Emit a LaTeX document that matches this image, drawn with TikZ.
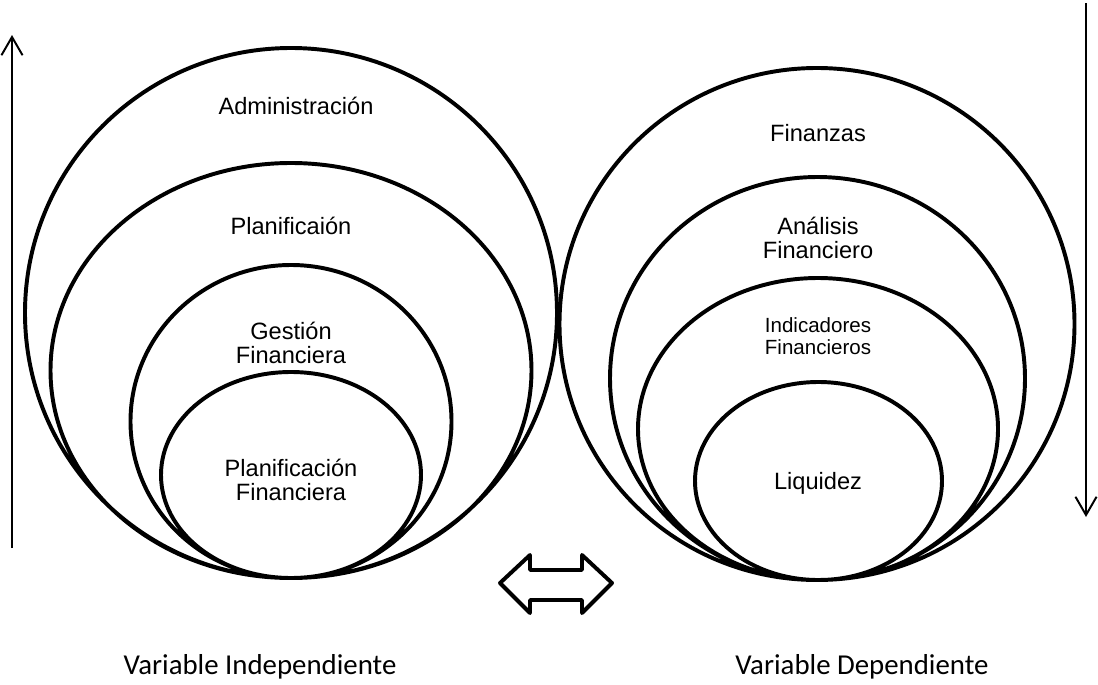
\documentclass[tikz,border=0pt]{standalone}
\usepackage{fontspec}
\setmainfont{Liberation Sans}
\newfontfamily\calibri{Carlito}
\usetikzlibrary{arrows.meta}
\begin{document}
\begin{tikzpicture}[x=0.025cm,y=-0.025cm,line width=2.8pt,
lbl/.style={align=center,inner sep=0pt,font=\fontsize{16.8}{17}\selectfont},
var/.style={inner sep=0pt,font=\calibri\fontsize{20.5}{24}\selectfont},
vec/.style={line width=1.4pt,-{Straight Barb[length=13pt,width=15pt]}}]
\useasboundingbox(0,0)rectangle(1098,684);
\draw(291,313)ellipse(266 and 265)(291,370.5)ellipse(240.5 and 207.5)
(291,421.5)ellipse(160.5 and 156.5)(291,475)ellipse(130 and 103);
\draw(817,324)ellipse(257.5 and 256)(817.5,378.5)ellipse(207.5 and 201.5)
(818,429)ellipse(180 and 151)(818.5,481)ellipse(123.5 and 99);
\node[lbl](admin)at(296,106){Administración};
\node[lbl](plan)at(291,226){Planificaión};
\node[lbl](gest)at(291,343){Gestión\\Financiera};
\node[lbl](planfin)at(291,480){Planificación\\Financiera};
\node[lbl](fin)at(818,133){Finanzas};
\node[lbl](anal)at(818,238){Análisis\\Financiero};
\node[lbl,font=\fontsize{14.6}{15.6}\selectfont](ind)at(818,336){Indicadores\\Financieros};
\node[lbl](liq)at(818,483){Liquidez};
\coordinate(upfoot)at(12,548);\coordinate(uphead)at(12,35);
\coordinate(downfoot)at(1086,3);\coordinate(downhead)at(1086,517);
\draw[vec](upfoot)--(uphead);
\draw[vec](downfoot)--(downhead);
\draw[line join=round](500,583)--(530,555)--(530,570)--(582,570)--(582,555)--(612,583)
--(582,613)--(582,600)--(530,600)--(530,613)--cycle;
\node[var](indep)at(260,667){Variable Independiente};
\node[var](dep)at(862,667){Variable Dependiente};
\end{tikzpicture}
\end{document}
